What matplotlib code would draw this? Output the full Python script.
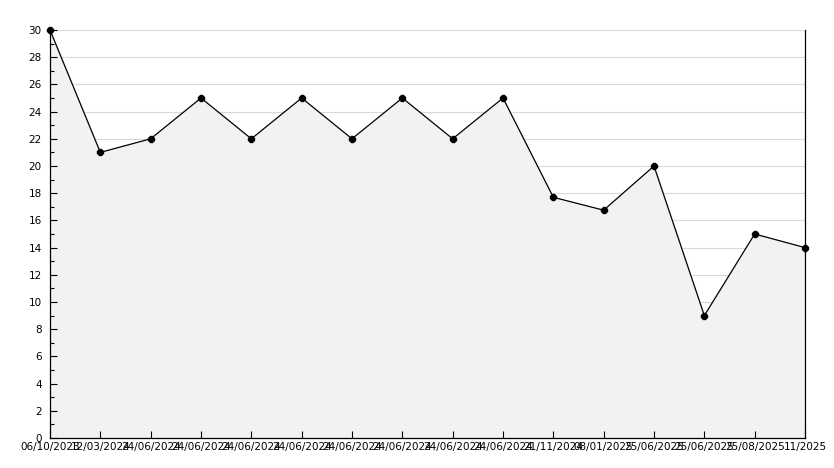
import matplotlib
matplotlib.use("Agg")
import matplotlib.pyplot as plt
from matplotlib.ticker import MultipleLocator

# 資料
dates = ["06/10/2023", "12/03/2024", "24/06/2024", "24/06/2024", "24/06/2024",
         "24/06/2024", "24/06/2024", "24/06/2024", "24/06/2024", "24/06/2024",
         "21/11/2024", "08/01/2025", "25/06/2025", "25/06/2025", "25/08/2025",
         "11/2025"]
values = [30, 21, 22, 25, 22, 25, 22, 25, 22, 25, 17.7, 16.75, 20, 9, 15, 14]

x = list(range(len(values)))

fig = plt.figure(figsize=(8.34, 4.68), dpi=100)
ax = fig.add_axes([50 / 834, 30 / 468, 755 / 834, 408 / 468])

ax.set_xlim(0, len(values) - 1)
ax.set_ylim(0, 30)
ax.set_xticks(x)
ax.set_xticklabels(dates)
ax.yaxis.set_major_locator(MultipleLocator(2))
ax.yaxis.set_minor_locator(MultipleLocator(1))

# 格線放在填色下面
for t in ax.get_yticks():
    if 0 < t <= 30:
        ax.axhline(t, color="#d9d9d9", linewidth=0.8, zorder=0.5)

ax.fill_between(x, values, 0, color="#f2f2f2", zorder=1)
ax.plot(x, values, color="black", linewidth=0.9, marker="8", markersize=4,
        zorder=3, clip_on=False)

ax.spines["top"].set_visible(False)
for s in ["left", "bottom", "right"]:
    ax.spines[s].set_linewidth(0.9)

ax.tick_params(axis="x", direction="in", length=5, width=0.8, labelsize=7.5, pad=3)
ax.tick_params(axis="y", which="major", direction="in", length=5, width=0.8, labelsize=7.5, pad=6)
ax.tick_params(axis="y", which="minor", direction="in", length=3, width=0.8)
ax.tick_params(axis="y", which="both", right=False)

plt.savefig("out.png", dpi=100)
